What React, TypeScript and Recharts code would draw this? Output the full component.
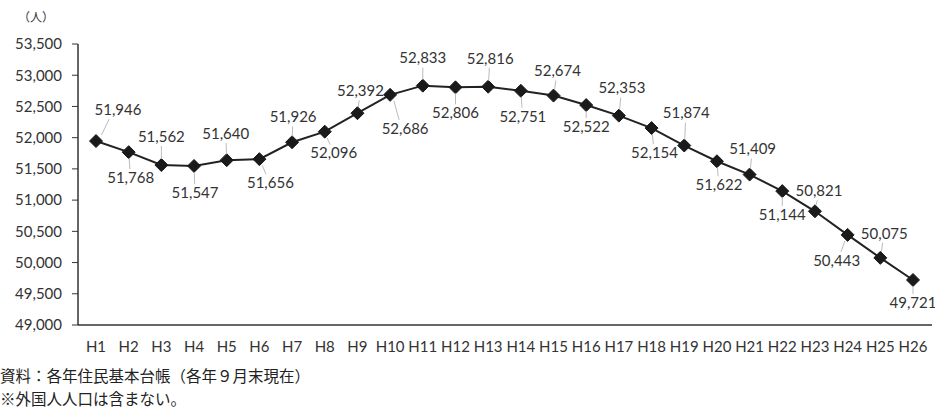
import React from 'react';
import { LineChart, Line, XAxis, YAxis, LabelList } from 'recharts';

const years = ['H1', 'H2', 'H3', 'H4', 'H5', 'H6', 'H7', 'H8', 'H9', 'H10', 'H11', 'H12', 'H13', 'H14', 'H15', 'H16', 'H17', 'H18', 'H19', 'H20', 'H21', 'H22', 'H23', 'H24', 'H25', 'H26'];
const population = [51946, 51768, 51562, 51547, 51640, 51656, 51926, 52096, 52392, 52686, 52833, 52806, 52816, 52751, 52674, 52522, 52353, 52154, 51874, 51622, 51409, 51144, 50821, 50443, 50075, 49721];
const yTicks = [49000, 49500, 50000, 50500, 51000, 51500, 52000, 52500, 53000, 53500];

// label offsets from each point (above for even, below for odd)
const labelDx = [22, 2, 0, 1, -1, 11, 1, 9, 3, 15, 0, 0, 2, 2, 4, 0, 3, 3, 2, 2, 3, 0, 4, -11, 4, 0];
const labelDy = [-30, 27, -27, 28, -25, 25, -24, 23, -21, 35, -26, 27, -27, 27, -23, 23, -26, 26, -31, 25, -24, 25, -19, 27, -23, 24];

const data = years.map((y, i) => ({ year: y, value: population[i], idx: i }));

const font = 'Lato, "Noto Sans", sans-serif';
const fmt = (v: number) => v.toLocaleString('en-US');

const Diamond = (props: any) => {
  const { cx, cy } = props;
  const r = 6.5;
  return (
    <polygon
      points={`${cx},${cy - r} ${cx + r},${cy} ${cx},${cy + r} ${cx - r},${cy}`}
      fill="#1a1a1a"
      stroke="#1a1a1a"
    />
  );
};

const PointLabel = (props: any) => {
  const { x, y, value, index } = props;
  const dx = labelDx[index];
  const dy = labelDy[index];
  const lx = x + dx;
  const ly = y + dy;
  const up = dy < 0;
  return (
    <g>
      <line
        x1={x + dx * 0.25}
        y1={y + (up ? -6 : 6)}
        x2={x + dx * 0.6}
        y2={up ? ly + 8 : ly - 10}
        stroke="#bbb"
        strokeWidth={1}
      />
      <text x={lx} y={ly} textAnchor="middle" dominantBaseline="middle" fontSize={15} fill="#333" fontFamily={font}>
        {fmt(value)}
      </text>
    </g>
  );
};

export default function App() {
  return (
    <div style={{ position: 'absolute', left: 0, top: 0, width: 935, height: 410, background: '#fff' }}>
      <div style={{ position: 'absolute', left: 18, top: 8, fontSize: 12, fontFamily: '"Noto Sans CJK JP", sans-serif', color: '#333' }}>
        （人）
      </div>
      <LineChart width={935} height={410} data={data} margin={{ top: 44, right: 3, bottom: 55, left: 0 }}>
        <XAxis
          dataKey="year"
          tickLine={false}
          axisLine={{ stroke: '#333', strokeWidth: 1.5 }}
          tick={{ fontSize: 15, fill: '#333', fontFamily: font }}
          tickMargin={10}
          interval={0}
          height={30}
          padding={{ left: 18, right: 19 }}
        />
        <YAxis
          domain={[49000, 53500]}
          ticks={yTicks}
          tickFormatter={fmt}
          width={78}
          tickSize={6}
          tickMargin={10}
          axisLine={{ stroke: '#333', strokeWidth: 1.5 }}
          tickLine={{ stroke: '#333' }}
          tick={{ fontSize: 15, fill: '#333', fontFamily: font }}
          interval={0}
        />
        <Line
          type="linear"
          dataKey="value"
          stroke="#222"
          strokeWidth={2}
          dot={<Diamond />}
          isAnimationActive={false}
        >
          <LabelList dataKey="value" content={<PointLabel />} />
        </Line>
      </LineChart>
      <div style={{ position: 'absolute', left: 0, top: 364, fontSize: 15.5, lineHeight: '23px', fontFamily: '"Noto Sans CJK JP", sans-serif', color: '#222' }}>
        <div>資料：各年住民基本台帳（各年９月末現在）</div>
        <div>※外国人人口は含まない。</div>
      </div>
    </div>
  );
}
